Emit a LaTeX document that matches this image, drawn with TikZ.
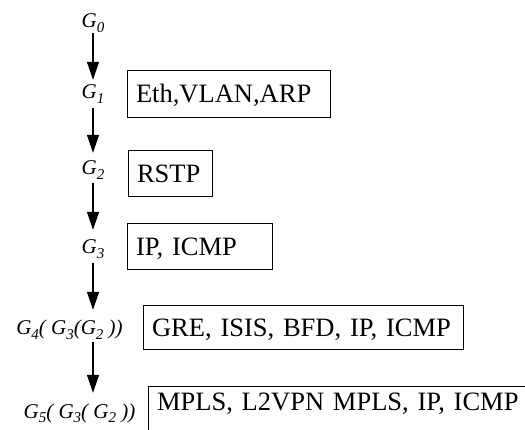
\documentclass[tikz,border=0pt]{standalone}
\usepackage{fontspec}
\setmainfont{Liberation Serif}
\usetikzlibrary{arrows.meta}
% italic G with a lowered index
\newcommand\gsub[1]{G\raisebox{-4.5pt}{\fontsize{15}{15}\selectfont #1}}
\begin{document}
\begin{tikzpicture}[x=1pt,y=-1pt,
  lbl/.style={inner sep=0pt, anchor=base, text height=15pt, text depth=5pt,
              font=\fontsize{21}{24}\selectfont\itshape},
  layer/.style={draw, line width=1.1pt, anchor=north west, align=left,
                inner xsep=8.5pt, inner ysep=0pt, text height=17.5pt, text depth=0pt,
                font=\fontsize{26.5}{30}\selectfont},
  flow/.style={-{Triangle[length=18pt,width=12pt]}, line width=1.3pt}]
\useasboundingbox (0,0) rectangle (525,430);
\clip (0,0) rectangle (525,430);

% stage labels
\node[lbl] (g0) at (93,28)   {\gsub{0}};
\node[lbl] (g1) at (93,99)   {\gsub{1}};
\node[lbl] (g2) at (93,175)  {\gsub{2}};
\node[lbl] (g3) at (93,254)  {\gsub{3}};
\node[lbl] (g4) at (69.5,335) {\gsub{4}( \gsub{3}(\gsub{2} ))};
\node[lbl] (g5) at (79.5,418) {\gsub{5}( \gsub{3}( \gsub{2} ))};

% protocol sets
\node[layer, text width=186pt, minimum height=47pt] (b1) at (127,70)  {Eth,VLAN,ARP};
\node[layer, text width=67pt,  minimum height=46pt] (b2) at (128,150) {RSTP};
\node[layer, text width=128pt, minimum height=46pt] (b3) at (127,223) {IP, ICMP};
\node[layer, text width=303pt, minimum height=44pt] (b4) at (143,305) {GRE, ISIS, BFD, IP, ICMP};
\node[layer, text width=400pt, inner ysep=6.5pt, text depth=40pt] (b5) at (148,386)
  {MPLS, L2VPN MPLS, IP, ICMP};

% transitions
\draw[flow, shorten >=4pt] (g0.south) -- (g1.north);
\draw[flow, shorten <=4pt, shorten >=7pt] (g1.south) -- (g2.north);
\draw[flow, shorten <=3pt, shorten >=9pt] (g2.south) -- (g3.north);
\draw[flow, shorten <=4pt, shorten >=10pt] (g3.south) -- (g4.north -| g3.south);
\draw[flow, shorten <=2pt, shorten >=10pt] (g4.south -| g3.south) -- (g5.north -| g3.south);
\end{tikzpicture}
\end{document}
